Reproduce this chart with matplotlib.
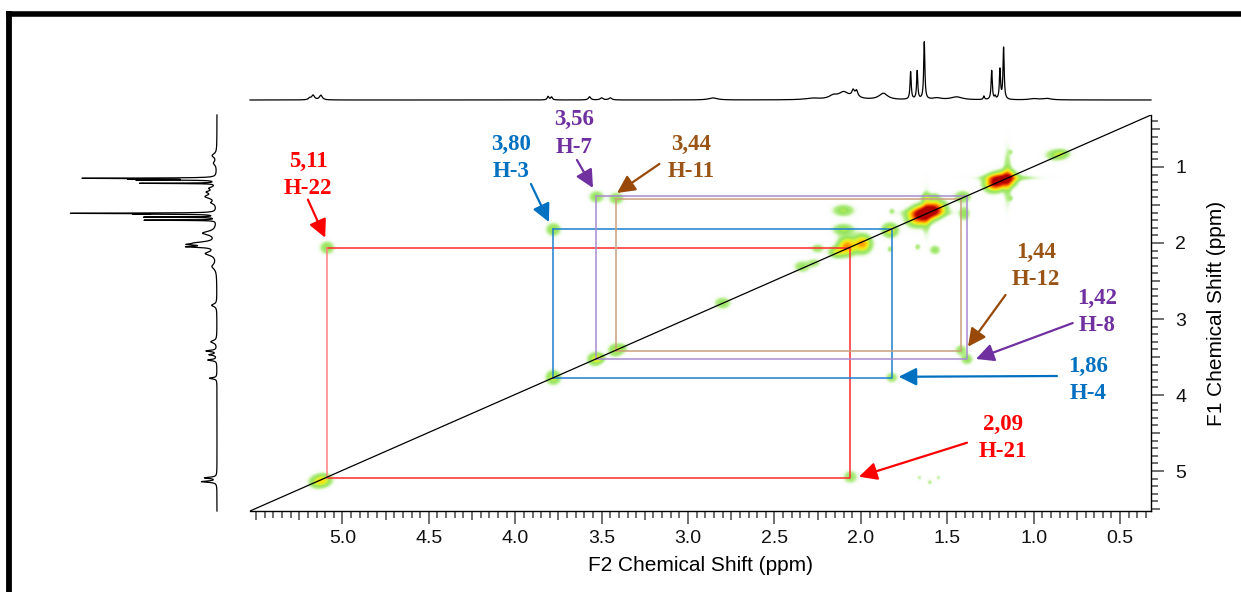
import numpy as np
import matplotlib
matplotlib.use("Agg")
import matplotlib.pyplot as plt
from matplotlib.colors import LinearSegmentedColormap
from matplotlib.lines import Line2D
from matplotlib.ticker import FixedLocator, MultipleLocator, FuncFormatter

# ---------------- data ----------------
# axis limits (ppm)
f2_limits = (5.535, 0.321)
f1_limits = (5.526, 0.316)

# F2 (top) 1D projection: peak centres, relative heights, half widths (ppm)
top_ppm = [1.633, 1.674, 1.712, 1.174, 1.195, 1.243, 1.288, 1.223,
           2.10, 2.045, 2.025, 2.035, 1.87, 1.446, 2.28, 2.16, 0.925, 2.856,
           5.17, 5.125, 5.19, 3.81, 3.79, 3.57, 3.50, 3.45, 1.0, 1.56]
top_height = [1.0, 0.49, 0.48, 0.90, 0.52, 0.50, 0.06, 0.05,
              0.12, 0.09, 0.09, 0.05, 0.11, 0.05, 0.025, 0.06, 0.025, 0.035,
              0.08, 0.08, 0.03, 0.06, 0.05, 0.055, 0.035, 0.035, 0.02, 0.03]
top_width = [0.004, 0.004, 0.004, 0.004, 0.004, 0.004, 0.004, 0.004,
             0.035, 0.008, 0.008, 0.03, 0.03, 0.04, 0.05, 0.03, 0.03, 0.03,
             0.01, 0.01, 0.008, 0.006, 0.006, 0.008, 0.01, 0.01, 0.03, 0.03]

# F1 (left) 1D projection
left_ppm = [1.149, 1.158, 1.17, 1.215, 1.61, 1.62, 1.66, 1.70,
            1.39, 1.47, 1.87, 2.00, 2.05, 2.02, 2.14, 2.31, 2.82,
            3.30, 3.42, 3.47, 3.54, 3.78, 5.09, 5.14, 0.95, 0.85, 1.28, 1.33]
left_height = [0.84, 0.42, 0.48, 0.50, 0.93, 0.42, 0.48, 0.48,
               0.07, 0.03, 0.09, 0.12, 0.17, 0.12, 0.07, 0.03, 0.035,
               0.04, 0.07, 0.05, 0.06, 0.05, 0.08, 0.10, 0.02, 0.03, 0.04, 0.05]
left_width = [0.004, 0.003, 0.003, 0.003, 0.004, 0.003, 0.003, 0.003,
              0.03, 0.02, 0.03, 0.02, 0.01, 0.01, 0.03, 0.04, 0.02,
              0.02, 0.01, 0.01, 0.01, 0.01, 0.01, 0.01, 0.03, 0.03, 0.02, 0.02]

# 2D COSY peaks: F2 ppm, F1 ppm, intensity, widths (ppm)
peak_x = [5.15, 5.11, 3.78, 3.54, 3.51, 3.42, 3.38, 2.80, 2.34, 2.27,
          2.08, 1.99, 2.14, 1.83, 1.64, 1.59, 1.68, 1.55, 1.41, 1.21,
          1.15, 1.24, 0.87, 0.83,
          1.15, 1.15, 1.62, 1.62,
          5.09, 2.06, 3.78, 1.82, 3.53, 1.385, 3.415, 1.42,
          2.10, 2.10, 2.25, 1.82, 1.83, 1.67, 1.57, 1.62, 1.57, 1.40,
          1.13, 1.13, 1.66, 1.60, 1.55]
peak_y = [5.15, 5.12, 3.77, 3.53, 3.51, 3.41, 3.38, 2.79, 2.31, 2.26,
          2.04, 2.01, 2.12, 1.83, 1.62, 1.57, 1.66, 1.54, 1.39, 1.19,
          1.15, 1.22, 0.84, 0.82,
          1.13, 1.14, 1.60, 1.60,
          2.06, 5.08, 1.82, 3.77, 1.39, 3.53, 1.41, 3.41,
          1.57, 1.82, 2.07, 1.58, 2.08, 2.05, 2.09, 1.39, 1.39, 1.61,
          0.80, 1.41, 5.09, 5.15, 5.09]
peak_amp = [0.25, 0.33, 0.33, 0.32, 0.20, 0.28, 0.15, 0.22, 0.20, 0.15,
            0.60, 0.58, 0.30, 0.38, 0.88, 0.84, 0.45, 0.40, 0.26, 0.80,
            0.88, 0.40, 0.22, 0.15,
            0.20, 0.20, 0.18, 0.18,
            0.24, 0.20, 0.26, 0.20, 0.24, 0.22, 0.24, 0.20,
            0.25, 0.25, 0.18, 0.13, 0.15, 0.15, 0.20, 0.20, 0.18, 0.22,
            0.10, 0.12, 0.10, 0.12, 0.10]
peak_sx = [0.032, 0.032, 0.027, 0.027, 0.02, 0.027, 0.02, 0.03, 0.03, 0.025,
           0.033, 0.033, 0.03, 0.03, 0.035, 0.032, 0.04, 0.035, 0.03, 0.032,
           0.032, 0.035, 0.04, 0.03,
           0.015, 0.11, 0.015, 0.09,
           0.027, 0.027, 0.027, 0.022, 0.027, 0.022, 0.027, 0.022,
           0.04, 0.04, 0.025, 0.012, 0.012, 0.012, 0.02, 0.02, 0.02, 0.02,
           0.01, 0.01, 0.01, 0.01, 0.01]
peak_sy = [0.055, 0.055, 0.06, 0.055, 0.04, 0.055, 0.04, 0.05, 0.05, 0.04,
           0.075, 0.075, 0.05, 0.06, 0.07, 0.065, 0.08, 0.07, 0.05, 0.065,
           0.065, 0.07, 0.05, 0.04,
           0.24, 0.025, 0.20, 0.03,
           0.055, 0.055, 0.055, 0.045, 0.05, 0.045, 0.05, 0.045,
           0.05, 0.05, 0.04, 0.03, 0.03, 0.03, 0.04, 0.035, 0.035, 0.06,
           0.025, 0.025, 0.025, 0.025, 0.025]

# correlation boxes (pair of coupled shifts) and their labels
box_pairs = [(5.09, 2.06), (3.78, 1.82), (3.53, 1.385), (3.415, 1.42)]
box_colors = ['#ff2a2a', '#1f7fd0', '#a68ccf', '#c9a07c']
box_left_colors = ['#ff8080', '#1f7fd0', '#a68ccf', '#c9a07c']

label_texts = ['5,11\nH-22', '3,80\nH-3', '3,56\nH-7', '3,44\nH-11',
               '1,44\nH-12', '1,42\nH-8', '1,86\nH-4', '2,09\nH-21']
label_colors = ['#ff0000', '#0070c0', '#7030a0', '#9a5516',
                '#9a5516', '#7030a0', '#0070c0', '#ff0000']
arrow_colors = ['#ff0000', '#0070c0', '#7030a0', '#984807',
                '#984807', '#7030a0', '#0070c0', '#ff0000']
label_pos = [(5.20, 1.11), (4.026, 0.88), (3.657, 0.559), (2.983, 0.882),
             (0.987, 2.30), (0.634, 2.908), (0.686, 3.80), (1.179, 4.566)]
arrow_tail = [(5.20, 1.43), (3.909, 1.224), (3.643, 0.908), (3.166, 0.96),
              (1.163, 2.684), (0.774, 3.053), (0.865, 3.75), (1.386, 4.628)]
arrow_tip = [(5.10, 1.93), (3.805, 1.724), (3.55, 1.276), (3.411, 1.342),
             (1.38, 3.364), (1.334, 3.526), (1.781, 3.76), (2.011, 5.075)]

x_major = [5.5, 5.25, 5.0, 4.75, 4.5, 4.25, 4.0, 3.75, 3.5, 3.25, 3.0, 2.75,
           2.5, 2.25, 2.0, 1.75, 1.5, 1.25, 1.0, 0.75, 0.5]
x_labels = ['', '', '5.0', '', '4.5', '', '4.0', '', '3.5', '', '3.0', '',
            '2.5', '', '2.0', '', '1.5', '', '1.0', '', '0.5']
y_major = [0.5, 1, 1.5, 2, 2.5, 3, 3.5, 4, 4.5, 5, 5.5]
y_labels = ['', '1', '', '2', '', '3', '', '4', '', '5', '']

# ---------------- figure ----------------
W, H = 1241, 592
fig = plt.figure(figsize=(W / 100, H / 100), dpi=100)
fig.patch.set_facecolor('white')

# outer frame (cropped at right/bottom as in the original)
fig.add_artist(Line2D([6 / W, 1.02], [1 - 13.5 / H, 1 - 13.5 / H],
                      color='black', lw=4.0, solid_capstyle='butt'))
fig.add_artist(Line2D([8.8 / W, 8.8 / W], [1 - 11 / H, -0.02],
                      color='black', lw=4.2, solid_capstyle='butt'))

ax = fig.add_axes([250 / W, 1 - 511 / H, 901 / W, 396 / H])
ax.set_xlim(*f2_limits)
ax.set_ylim(*f1_limits)

# 2D contour map
gx = np.linspace(f2_limits[0], f2_limits[1], 1400)
gy = np.linspace(f1_limits[0], f1_limits[1], 700)
GX, GY = np.meshgrid(gx, gy)
Z = np.zeros_like(GX)
for x0, y0, a, sx, sy in zip(peak_x, peak_y, peak_amp, peak_sx, peak_sy):
    Z += a * np.exp(-((GX - x0) ** 2 / (2 * sx ** 2) + (GY - y0) ** 2 / (2 * sy ** 2)))
Z = np.clip(Z, 0, 1)
cmap = LinearSegmentedColormap.from_list('cosy', [
    (0.00, (1, 1, 1, 0)),
    (0.05, (0.88, 0.97, 0.82, 0.5)),
    (0.10, (0.74, 0.94, 0.58, 1)),
    (0.20, (0.58, 0.89, 0.38, 1)),
    (0.32, (0.82, 0.95, 0.22, 1)),
    (0.45, (1.00, 0.88, 0.05, 1)),
    (0.60, (1.00, 0.58, 0.00, 1)),
    (0.80, (0.93, 0.22, 0.00, 1)),
    (1.00, (0.70, 0.00, 0.00, 1)),
])
ax.imshow(Z, extent=[gx[0], gx[-1], gy[0], gy[-1]], origin='lower',
          cmap=cmap, vmin=0, vmax=1, aspect='auto', interpolation='bilinear',
          zorder=1)

# correlation boxes
for (a, b), c, cl in zip(box_pairs, box_colors, box_left_colors):
    ax.plot([a, b, b, a], [b, b, a, a], color=c, lw=1.1, zorder=2)
    ax.plot([a, a], [a, b], color=cl, lw=1.1, zorder=2)

# diagonal
ax.plot([f2_limits[0], f2_limits[1]], [f1_limits[0], f1_limits[1]],
        color='black', lw=0.9, zorder=3)

# labels + arrows
for s, c, ac, p, t0, t1 in zip(label_texts, label_colors, arrow_colors,
                               label_pos, arrow_tail, arrow_tip):
    ax.text(p[0], p[1], s, color=c, fontsize=16.5, fontweight='bold',
            family='Liberation Serif', ha='center', va='center',
            linespacing=1.38, zorder=5)
    ax.annotate('', xy=t1, xytext=t0,
                arrowprops=dict(arrowstyle='-|>,head_length=0.6,head_width=0.3',
                                mutation_scale=18, lw=1.6, color=ac,
                                shrinkA=0, shrinkB=0), zorder=5)

# axes styling
for side in ('top', 'left'):
    ax.spines[side].set_visible(False)
for side in ('bottom', 'right'):
    ax.spines[side].set_linewidth(1.0)
ax.xaxis.set_major_locator(FixedLocator(x_major))
ax.xaxis.set_major_formatter(FuncFormatter(lambda v, i: x_labels[i] if i is not None and i < len(x_labels) else ''))
ax.xaxis.set_minor_locator(MultipleLocator(0.05))
ax.yaxis.tick_right()
ax.yaxis.set_label_position('right')
ax.yaxis.set_major_locator(FixedLocator(y_major))
ax.yaxis.set_major_formatter(FuncFormatter(lambda v, i: y_labels[i] if i is not None and i < len(y_labels) else ''))
ax.yaxis.set_minor_locator(MultipleLocator(0.1))
ax.tick_params(which='both', direction='out', color='#555555', width=1.2,
               labelsize=14, labelcolor='#111111')
ax.tick_params(which='major', length=9.5)
ax.tick_params(which='minor', length=4.8)
ax.tick_params(axis='x', pad=4)
ax.tick_params(axis='y', pad=8)
for lab in ax.get_xticklabels() + ax.get_yticklabels():
    lab.set_family('Liberation Sans')

for tick, lab in zip(ax.xaxis.get_major_ticks(len(x_major)), x_labels):
    if lab == '':
        tick.tick1line.set_markersize(6.8)
for tick, lab in zip(ax.yaxis.get_major_ticks(len(y_major)), y_labels):
    if lab == '':
        tick.tick2line.set_markersize(6.8)

ax.set_xlabel('F2 Chemical Shift (ppm)', fontsize=15, family='Liberation Sans',
              labelpad=7)
ax.set_ylabel('F1 Chemical Shift (ppm)', fontsize=15, family='Liberation Sans',
              labelpad=15)

# top projection
axt = fig.add_axes([250 / W, 1 - 100 / H, 901 / W, 58 / H])
sx_grid = np.linspace(f2_limits[0], f2_limits[1], 6000)
spec_top = np.zeros_like(sx_grid)
for p, h, w in zip(top_ppm, top_height, top_width):
    spec_top += h * w ** 2 / ((sx_grid - p) ** 2 + w ** 2)
axt.plot(sx_grid, spec_top, color='black', lw=0.9, clip_on=False)
axt.set_xlim(*f2_limits)
axt.set_ylim(0, 1)
axt.axis('off')

# left projection
axl = fig.add_axes([66 / W, 1 - 511 / H, 151 / W, 396 / H])
sy_grid = np.linspace(f1_limits[0], f1_limits[1], 6000)
spec_left = np.zeros_like(sy_grid)
for p, h, w in zip(left_ppm, left_height, left_width):
    spec_left += h * w ** 2 / ((sy_grid - p) ** 2 + w ** 2)
axl.plot(spec_left, sy_grid, color='black', lw=0.9, clip_on=False)
axl.set_xlim(1, 0)
axl.set_ylim(*f1_limits)
axl.axis('off')

fig.savefig('out.png', dpi=100, facecolor='white')
